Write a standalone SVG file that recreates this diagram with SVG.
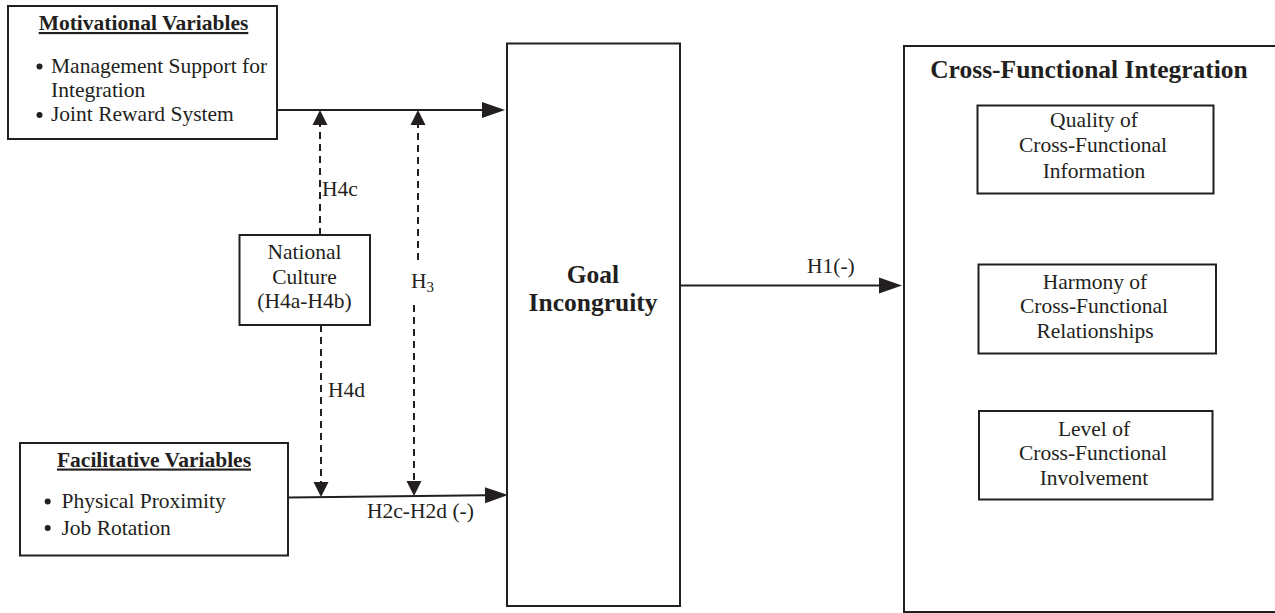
<svg xmlns="http://www.w3.org/2000/svg" width="1275" height="613" viewBox="0 0 1275 613">
<style>
  .box{fill:#fff;stroke:#231f20;stroke-width:2}
  .t{font-family:"Liberation Serif","Times New Roman",serif;font-size:21.5px;fill:#231f20}
  .b{font-family:"Liberation Serif","Times New Roman",serif;font-weight:bold;fill:#231f20}
  .c{text-anchor:middle}
  .ln{stroke:#231f20;stroke-width:2;fill:none}
  .dash{stroke-dasharray:7,5}
</style>
<defs>
  <marker id="big" markerUnits="userSpaceOnUse" markerWidth="23" markerHeight="16" refX="0" refY="8" orient="auto" overflow="visible">
    <path d="M0,0 L23,8 L0,16 z" fill="#231f20"/>
  </marker>
  <marker id="small" markerUnits="userSpaceOnUse" markerWidth="15" markerHeight="15" refX="0" refY="7.5" orient="auto" overflow="visible">
    <path d="M0,0 L15,7.5 L0,15 z" fill="#231f20"/>
  </marker>
</defs>
<rect width="1275" height="613" fill="#fff"/>

<g id="connectors">
  <line class="ln" x1="277" y1="110" x2="482" y2="110" marker-end="url(#big)"/>
  <line class="ln" x1="288" y1="497.5" x2="485" y2="495.3" marker-end="url(#big)"/>
  <line class="ln" x1="681" y1="285.5" x2="879" y2="285.5" marker-end="url(#big)"/>
  <line class="ln dash" x1="320" y1="235" x2="320" y2="125" marker-end="url(#small)"/>
  <line class="ln dash" x1="418" y1="260" x2="418" y2="125" marker-end="url(#small)"/>
  <line class="ln dash" x1="321" y1="325" x2="321" y2="482" marker-end="url(#small)"/>
  <line class="ln dash" x1="414" y1="305" x2="414" y2="481" marker-end="url(#small)"/>
  <text class="t" x="322" y="196">H4c</text>
  <text class="t" x="328" y="397">H4d</text>
  <text class="t" x="411" y="288">H<tspan font-size="15" dy="4">3</tspan></text>
  <text class="t" x="367" y="518">H2c-H2d (-)</text>
  <text class="t" x="807" y="273">H1(-)</text>
</g>

<g id="motivational">
  <rect class="box" x="8" y="6" width="269" height="133"/>
  <text class="b c" x="143.5" y="30" font-size="21.5" text-decoration="underline">Motivational Variables</text>
  <circle cx="39.5" cy="66.5" r="3" fill="#231f20"/>
  <text class="t" x="51" y="73">Management Support for</text>
  <text class="t" x="51" y="97">Integration</text>
  <circle cx="39.5" cy="115" r="3" fill="#231f20"/>
  <text class="t" x="51" y="121">Joint Reward System</text>
</g>

<g id="national-culture">
  <rect class="box" x="239.5" y="235" width="130.5" height="90"/>
  <text class="t c" x="304.5" y="259">National</text>
  <text class="t c" x="304.5" y="284">Culture</text>
  <text class="t c" x="304.5" y="308">(H4a-H4b)</text>
</g>

<g id="facilitative">
  <rect class="box" x="20" y="443" width="268" height="112.5"/>
  <text class="b c" x="154" y="466.5" font-size="21.5" text-decoration="underline">Facilitative Variables</text>
  <circle cx="47.7" cy="501.5" r="3" fill="#231f20"/>
  <text class="t" x="61.5" y="508">Physical Proximity</text>
  <circle cx="47.7" cy="528" r="3" fill="#231f20"/>
  <text class="t" x="61.5" y="535">Job Rotation</text>
</g>

<g id="goal-incongruity">
  <rect class="box" x="507" y="43.5" width="173" height="562.5"/>
  <text class="b c" x="593" y="283" font-size="25.5">Goal</text>
  <text class="b c" x="593" y="311" font-size="25.5">Incongruity</text>
</g>

<g id="cross-functional-integration">
  <rect class="box" x="904" y="46" width="400" height="566"/>
  <text class="b c" x="1089" y="78" font-size="25.5">Cross-Functional Integration</text>
</g>

<g id="quality">
  <rect class="box" x="977.5" y="105.5" width="236" height="88"/>
  <text class="t c" x="1094" y="127">Quality of</text>
  <text class="t c" x="1093" y="152">Cross-Functional</text>
  <text class="t c" x="1094" y="178">Information</text>
</g>

<g id="harmony">
  <rect class="box" x="978.5" y="264.5" width="237.5" height="89"/>
  <text class="t c" x="1095" y="288.5">Harmony of</text>
  <text class="t c" x="1094" y="313">Cross-Functional</text>
  <text class="t c" x="1095" y="338">Relationships</text>
</g>

<g id="level">
  <rect class="box" x="979" y="411" width="233.5" height="88.5"/>
  <text class="t c" x="1094" y="435.5">Level of</text>
  <text class="t c" x="1093" y="460">Cross-Functional</text>
  <text class="t c" x="1094" y="485">Involvement</text>
</g>
</svg>
